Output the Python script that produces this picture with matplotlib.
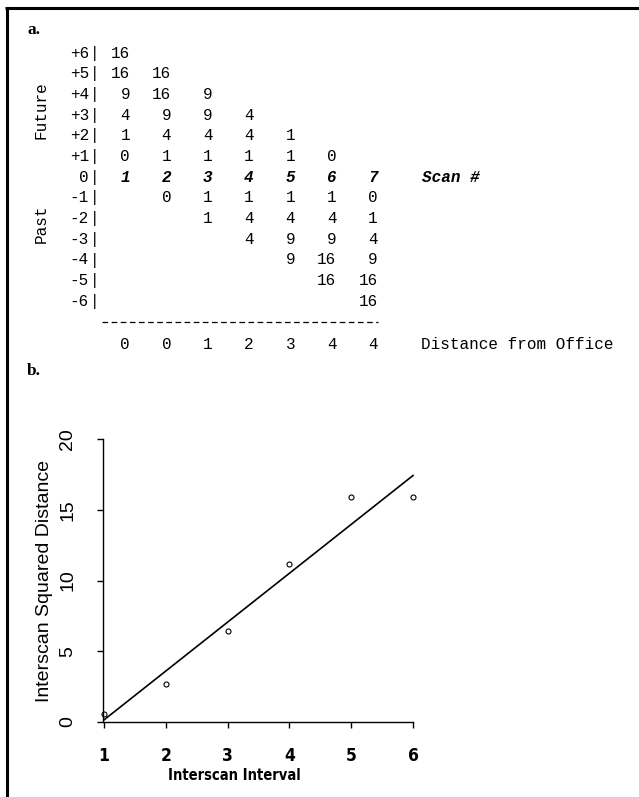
import numpy as np
import matplotlib
matplotlib.use("Agg")
import matplotlib.pyplot as plt
from matplotlib import font_manager

# ---- panel a: squared-distance table ----
row_labels = ['+6', '+5', '+4', '+3', '+2', '+1', '0',
              '-1', '-2', '-3', '-4', '-5', '-6']
table_rows = [
    ['16', '', '', '', '', '', ''],
    ['16', '16', '', '', '', '', ''],
    ['9', '16', '9', '', '', '', ''],
    ['4', '9', '9', '4', '', '', ''],
    ['1', '4', '4', '4', '1', '', ''],
    ['0', '1', '1', '1', '1', '0', ''],
    ['1', '2', '3', '4', '5', '6', '7'],   # scan numbers
    ['', '0', '1', '1', '1', '1', '0'],
    ['', '', '1', '4', '4', '4', '1'],
    ['', '', '', '4', '9', '9', '4'],
    ['', '', '', '', '9', '16', '9'],
    ['', '', '', '', '', '16', '16'],
    ['', '', '', '', '', '', '16'],
]
scan_row = 6
distance_from_office = ['0', '0', '1', '2', '3', '4', '4']

# ---- panel b: interscan interval vs squared distance ----
interval = np.array([1, 2, 3, 4, 5, 6])
sq_distance = np.array([0.6, 2.7, 6.4, 11.2, 15.9, 15.9])

# condensed bold face for the x axis, if one is installed
cond = None
for f in font_manager.fontManager.ttflist:
    if 'Condensed' in f.fname or 'Narrow' in f.fname:
        if 'Bold' in f.fname and 'Oblique' not in f.fname and 'Italic' not in f.fname:
            cond = f.fname
            break
if cond:
    cond_prop = font_manager.FontProperties(fname=cond)
    tick_size, lab_size = 12.5, 10.5
else:
    cond_prop = font_manager.FontProperties(family='DejaVu Sans', weight='bold')
    tick_size, lab_size = 11, 8

W, H = 639, 797
fig = plt.figure(figsize=(W / 100, H / 100), dpi=100)

# overlay in pixel coordinates for the text table and frame
ov = fig.add_axes([0, 0, 1, 1])
ov.set_xlim(0, W)
ov.set_ylim(H, 0)
ov.axis('off')

# frame: top and left rules only
ov.plot([5, W], [8, 8], color='black', lw=2.2, solid_capstyle='butt')
ov.plot([6.5, 6.5], [7, H], color='black', lw=2.2, solid_capstyle='butt')

ov.text(27, 30, 'a.', fontsize=12.5, fontweight='bold', family='Liberation Serif',
        ha='left', va='center')
ov.text(27, 371, 'b.', fontsize=12.5, fontweight='bold', family='Liberation Serif',
        ha='left', va='center')

mono = 'Liberation Mono'
fs = 11.5
row_y0, row_dy = 53, 20.7
col_x0, col_dx = 130, 41.3

for i, lab in enumerate(row_labels):
    y = row_y0 + i * row_dy
    ov.text(89, y, lab, family=mono, fontsize=fs, ha='right', va='center')
    ov.text(95, y, '|', family=mono, fontsize=fs, ha='center', va='center')
    for j, val in enumerate(table_rows[i]):
        if not val:
            continue
        x = col_x0 + j * col_dx
        if i == scan_row:
            ov.text(x, y, val, family=mono, fontsize=fs, fontweight='bold',
                    style='italic', ha='right', va='center')
        else:
            ov.text(x, y, val, family=mono, fontsize=fs, ha='right', va='center')

ov.text(422, row_y0 + scan_row * row_dy, 'Scan #', family=mono, fontsize=fs,
        fontweight='bold', style='italic', ha='left', va='center')

ov.text(41, 110, 'Future', family=mono, fontsize=fs, rotation=90,
        ha='center', va='center')
ov.text(41, 224, 'Past', family=mono, fontsize=fs, rotation=90,
        ha='center', va='center')

ov.plot([102, 378], [322, 322], color='black', lw=0.9,
        linestyle=(0, (4.5, 2.8)))

for j, val in enumerate(distance_from_office):
    ov.text(col_x0 + j * col_dx, 344, val, family=mono, fontsize=fs,
            ha='right', va='center')
ov.text(421, 344, 'Distance from Office', family=mono, fontsize=fs,
        ha='left', va='center')

# ---- panel b plot ----
left, right, bottom, top = 104, 413, 722, 439
ax = fig.add_axes([left / W, 1 - bottom / H, (right - left) / W, (bottom - top) / H])
ax.patch.set_alpha(0)

slope, intercept = np.polyfit(interval, sq_distance, 1)
xfit = np.array([interval.min(), interval.max()])
ax.plot(xfit, intercept + slope * xfit, color='black', lw=1.2, clip_on=False)
ax.plot(interval, sq_distance, 'o', mfc='white', mec='black', ms=3.6, mew=0.8,
        clip_on=False)

ax.set_xlim(1, 6)
ax.set_ylim(0, 20)
for s in ['top', 'right']:
    ax.spines[s].set_visible(False)
ax.spines['left'].set_bounds(0, 20)
ax.spines['bottom'].set_bounds(1, 6)
ax.spines['left'].set_position(('outward', 1))
for s in ['left', 'bottom']:
    ax.spines[s].set_linewidth(1.0)

ax.set_yticks([0, 5, 10, 15, 20])
ax.set_yticklabels(['0', '5', '10', '15', '20'], rotation=90, va='center',
                   family='Liberation Sans', fontsize=14)
ax.set_xticks(interval)
ax.set_xticklabels([str(v) for v in interval])
for t in ax.get_xticklabels():
    t.set_fontproperties(cond_prop)
    t.set_fontsize(tick_size)
ax.tick_params(axis='y', length=4, width=1.0, pad=15)
ax.tick_params(axis='x', length=4, width=1.0, pad=14)

ax.text(-0.191, 0.5, 'Interscan Squared Distance', transform=ax.transAxes,
        rotation=90, ha='center', va='center', family='Liberation Sans', fontsize=14)
xl = ax.text(0.421, -0.188, 'Interscan Interval', transform=ax.transAxes,
             ha='center', va='center')
xl.set_fontproperties(cond_prop)
xl.set_fontsize(lab_size)

fig.savefig('out.png', dpi=100)
